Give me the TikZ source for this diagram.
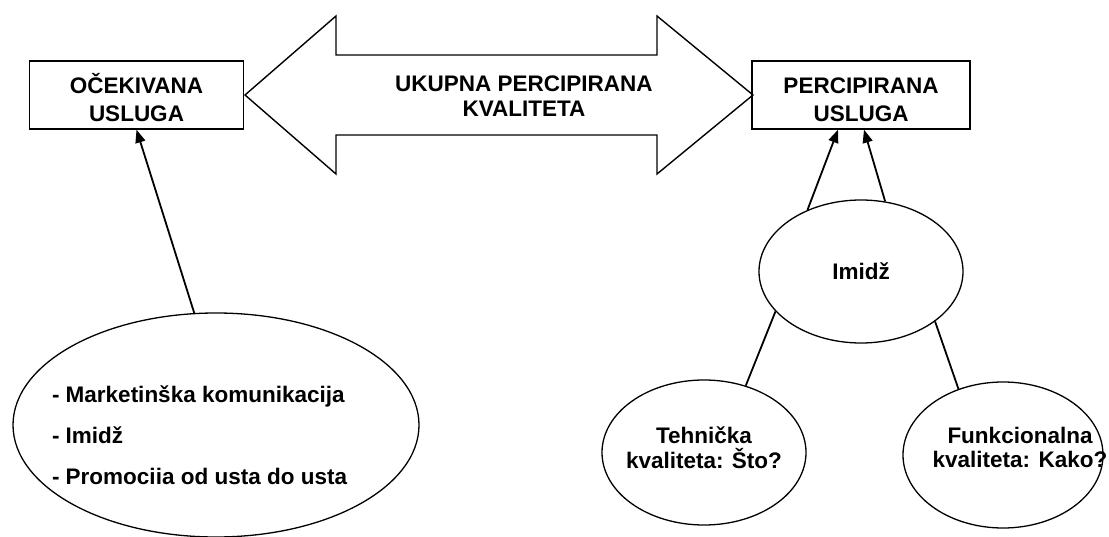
\documentclass[tikz,border=0pt]{standalone}
\usepackage{fontspec}
\setmainfont{Liberation Sans}
\usetikzlibrary{shapes.geometric,arrows.meta,calc}
\newcommand\zbox[2][0pt]{\makebox[0pt]{\hspace*{#1}#2}}
\newcommand\lbox[2][0pt]{\makebox[0pt][l]{\hspace*{#1}#2}}
\begin{document}
\begin{tikzpicture}[x=1pt,y=-1pt,
  box/.style={draw, line width=1.4pt, rectangle, inner sep=0pt, minimum width=214pt, minimum height=68pt, align=center, font=\fontsize{22.5}{28}\selectfont\bfseries},
  oval/.style={draw, ellipse, line width=1.3pt, inner sep=0pt, align=center, font=\fontsize{22.5}{24.5}\selectfont\bfseries},
  conn/.style={line width=1.8pt},
  arr/.style={conn, -{Triangle[length=13pt,width=10pt]}},
  bigarrow/.style={draw, line width=1.4pt, line join=miter, fill=white}
]
\useasboundingbox (0,0) rectangle (1109,537);
\fill[white] (0,0) rectangle (1109,537);

\draw[bigarrow] (245,95) -- (336,16) -- (336,55) -- (657,55) -- (657,16) -- (753,95) -- (657,174) -- (657,135) -- (336,135) -- (336,174) -- cycle;
\node[font=\fontsize{22.5}{25}\selectfont\bfseries, align=center] (tq) at (524,96) {UKUPNA PERCIPIRANA\\KVALITETA};

\node[box] (ob) at (136.5,95) {\rule{0pt}{26pt}OČEKIVANA\\USLUGA};
\node[box, minimum width=218pt] (pb) at (861,95) {\rule{0pt}{26pt}PERCIPIRANA\\USLUGA};

\node[oval, minimum width=406pt, minimum height=224pt, font=\fontsize{22.5}{41}\selectfont\bfseries, align=left] (mk) at (216,425)
  {\lbox[-164pt]{\rule{0pt}{38pt}- Marketinška komunikacija}\\\lbox[-164pt]{- Imidž}\\\lbox[-164pt]{- Promociia od usta do usta}};

\node[oval, minimum width=204pt, minimum height=143pt] (im) at (861,271.5) {Imidž};
\node[oval, minimum width=204pt, minimum height=145pt] (tk) at (704,452.5)
  {\zbox{Tehnička}\\\zbox{kvaliteta: Što?}\rule[-10pt]{0pt}{10pt}};
\node[oval, minimum width=200pt, minimum height=146pt] (fk) at (1003,455)
  {\zbox[34pt]{Funkcionalna}\\\zbox[34pt]{kvaliteta: Kako?}\rule[-15pt]{0pt}{15pt}};

\draw[arr] (mk.101.6) -- (ob.south);
\draw[arr] (im.131) -- ($(pb.south)+(-23,0)$);
\draw[arr] (im.71) -- ($(pb.south)+(3,0)$);
\draw[conn] (im.205) -- (tk.58);
\draw[conn] (im.326) -- (fk.124);
\end{tikzpicture}
\end{document}
